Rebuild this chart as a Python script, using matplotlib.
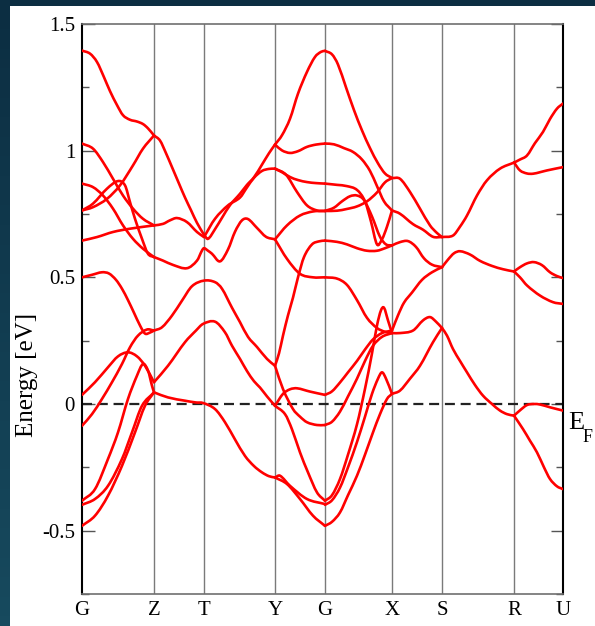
import numpy as np
import matplotlib
matplotlib.use("Agg")
import matplotlib.pyplot as plt
import matplotlib.transforms as mtransforms
from matplotlib.path import Path
from matplotlib.patches import PathPatch, Rectangle
from matplotlib.colors import LinearSegmentedColormap

# high-symmetry points along the k-path (arbitrary path units)
kpath_labels = ["G", "Z", "T", "Y", "G", "X", "S", "R", "U"]
kpath_pos = [0, 72, 122, 193, 243, 310, 360, 432, 481]

# bands, (k, E [eV]) per line, grouped by path section
bands_G_Z = [
    [(0, 1.395), (8, 1.383), (15, 1.35), (22, 1.29), (28, 1.235), (35, 1.18), (41, 1.14),
     (48, 1.122), (55, 1.115), (61, 1.105), (66, 1.088), (72, 1.06)],
    [(0, 1.028), (11, 1.008), (21, 0.955), (31, 0.889), (41, 0.823), (51, 0.771), (61, 0.731), (72, 0.705)],
    [(0, 0.870), (11, 0.856), (21, 0.823), (31, 0.771), (41, 0.705), (51, 0.652), (61, 0.613), (72, 0.58)],
    [(0, 0.764), (11, 0.777), (25, 0.81), (38, 0.863), (51, 0.942), (61, 1.008), (72, 1.06)],
    [(0, 0.764), (11, 0.791), (25, 0.85), (36, 0.88), (43, 0.863), (48, 0.797), (53, 0.731),
     (60, 0.652), (66, 0.593), (72, 0.58)],
    [(0, 0.645), (15, 0.659), (31, 0.679), (48, 0.692), (72, 0.705)],
    [(0, 0.50), (10, 0.51), (20, 0.52), (27, 0.515), (34, 0.49), (40, 0.455), (46, 0.41), (52, 0.36),
     (58, 0.31), (63, 0.278), (68, 0.282), (72, 0.29)],
    [(0, 0.036), (13, 0.086), (26, 0.145), (36, 0.188), (46, 0.204), (55, 0.188), (63, 0.151), (72, 0.086)],
    [(0, -0.086), (10, -0.04), (20, 0.02), (30, 0.086), (40, 0.158), (48, 0.224), (56, 0.27), (65, 0.294), (72, 0.29)],
    [(0, -0.382), (13, -0.336), (26, -0.217), (36, -0.112), (46, 0.02), (55, 0.112), (61, 0.158),
     (66, 0.132), (70, 0.072), (72, 0.046)],
    [(0, -0.398), (13, -0.375), (26, -0.323), (40, -0.217), (50, -0.112), (60, -0.007), (72, 0.046)],
    [(0, -0.481), (13, -0.441), (26, -0.362), (40, -0.244), (53, -0.112), (63, -0.007), (72, 0.046)],
]

bands_Z_Y = [
    [(72, 1.06), (78, 1.04), (84, 0.99), (90, 0.935), (97, 0.87), (103, 0.815), (109, 0.765),
     (115, 0.715), (122, 0.668)],
    [(72, 0.705), (81, 0.711), (88, 0.725), (95, 0.734), (105, 0.718), (115, 0.679), (122, 0.659)],
    [(72, 0.58), (81, 0.566), (91, 0.549), (105, 0.536), (115, 0.566), (120, 0.606), (122, 0.615),
     (126, 0.605), (130, 0.593), (138, 0.563), (146, 0.61), (153, 0.68), (160, 0.725), (166, 0.73),
     (175, 0.695), (184, 0.66), (193, 0.65)],
    [(122, 0.659), (133, 0.731), (146, 0.784), (158, 0.815), (165, 0.855), (172, 0.893), (180, 0.92),
     (187, 0.928), (193, 0.929)],
    [(122, 0.668), (126, 0.652), (133, 0.69), (140, 0.735), (148, 0.785), (158, 0.83), (165, 0.865),
     (172, 0.895), (180, 0.945), (187, 0.99), (193, 1.024)],
    [(72, 0.29), (80, 0.303), (90, 0.349), (100, 0.408), (110, 0.465), (122, 0.487), (133, 0.481),
     (140, 0.455), (150, 0.38), (158, 0.323), (166, 0.265), (175, 0.225), (185, 0.178), (193, 0.151)],
    [(72, 0.086), (86, 0.151), (103, 0.244), (114, 0.29), (121, 0.316), (133, 0.325), (143, 0.283),
     (150, 0.23), (158, 0.178), (165, 0.13), (172, 0.09), (178, 0.065), (185, 0.03), (193, -0.007)],
    [(72, 0.046), (86, 0.026), (103, 0.013), (114, 0.006), (121, 0.004), (133, -0.02), (143, -0.072),
     (153, -0.14), (163, -0.205), (172, -0.245), (180, -0.27), (187, -0.285), (193, -0.29)],
]

bands_Y_G = [
    [(193, 1.024), (200, 1.061), (208, 1.126), (216, 1.225), (225, 1.311), (233, 1.37), (239, 1.39), (243, 1.394)],
    [(193, 1.024), (200, 1.001), (208, 0.991), (216, 0.998), (225, 1.015), (234, 1.024), (243, 1.028)],
    [(193, 0.929), (200, 0.915), (208, 0.896), (216, 0.884), (225, 0.876), (234, 0.872), (243, 0.87)],
    [(193, 0.929), (204, 0.905), (215, 0.837), (225, 0.784), (235, 0.764), (243, 0.762)],
    [(193, 0.65), (205, 0.705), (218, 0.744), (231, 0.76), (243, 0.762)],
    [(193, 0.65), (205, 0.573), (218, 0.514), (231, 0.50), (243, 0.50)],
    [(193, 0.151), (197, 0.2), (201, 0.27), (206, 0.35), (211, 0.42), (216, 0.5), (222, 0.58),
     (230, 0.63), (237, 0.642), (243, 0.645)],
    [(193, 0.151), (201, 0.059), (211, -0.02), (218, -0.05), (225, -0.072), (235, -0.083), (243, -0.083)],
    [(193, -0.007), (201, 0.04), (208, 0.058), (215, 0.062), (228, 0.049), (243, 0.036)],
    [(193, -0.007), (203, -0.04), (210, -0.1), (218, -0.191), (226, -0.27), (235, -0.349), (243, -0.382)],
    [(193, -0.29), (198, -0.283), (208, -0.323), (225, -0.375), (243, -0.395)],
    [(193, -0.29), (205, -0.316), (218, -0.375), (231, -0.441), (243, -0.481)],
]

bands_G_X = [
    [(243, 1.394), (250, 1.38), (256, 1.34), (264, 1.25), (272, 1.16), (280, 1.08), (288, 1.01),
     (296, 0.95), (303, 0.91), (310, 0.892)],
    [(243, 1.028), (252, 1.025), (262, 1.01), (271, 0.995), (280, 0.965), (288, 0.92), (295, 0.86),
     (302, 0.8), (310, 0.764)],
    [(243, 0.87), (255, 0.865), (265, 0.86), (275, 0.845), (283, 0.8), (289, 0.72), (295, 0.63),
     (300, 0.65), (305, 0.7), (310, 0.764)],
    [(243, 0.762), (255, 0.763), (265, 0.77), (275, 0.78), (285, 0.8), (295, 0.835), (303, 0.875), (310, 0.892)],
    [(243, 0.762), (252, 0.775), (260, 0.8), (268, 0.82), (275, 0.823), (282, 0.805), (290, 0.74),
     (298, 0.66), (304, 0.63), (310, 0.626)],
    [(243, 0.645), (255, 0.64), (265, 0.63), (275, 0.615), (285, 0.605), (295, 0.605), (303, 0.615), (310, 0.626)],
    [(243, 0.50), (255, 0.495), (265, 0.47), (275, 0.41), (285, 0.34), (295, 0.3), (303, 0.285), (310, 0.28)],
    [(243, 0.036), (250, 0.05), (258, 0.085), (266, 0.125), (275, 0.17), (283, 0.215), (291, 0.255),
     (300, 0.28), (310, 0.29)],
    [(243, -0.083), (250, -0.07), (258, -0.03), (266, 0.03), (275, 0.1), (283, 0.17), (291, 0.23),
     (300, 0.265), (310, 0.28)],
    [(243, -0.382), (250, -0.36), (258, -0.296), (266, -0.2), (275, -0.08), (283, 0.06), (290, 0.2),
     (295, 0.31), (299, 0.37), (302, 0.38), (306, 0.33), (310, 0.28)],
    [(243, -0.398), (250, -0.38), (258, -0.33), (266, -0.25), (275, -0.15), (283, -0.05), (290, 0.04),
     (296, 0.1), (300, 0.125), (304, 0.1), (310, 0.04)],
    [(243, -0.481), (250, -0.465), (258, -0.428), (266, -0.36), (275, -0.283), (283, -0.2), (291, -0.112),
     (298, -0.04), (305, 0.02), (310, 0.04)],
]

bands_X_S = [
    [(310, 0.892), (318, 0.889), (328, 0.837), (338, 0.771), (348, 0.705), (355, 0.675), (360, 0.659)],
    [(310, 0.764), (318, 0.751), (331, 0.71), (341, 0.688), (351, 0.66), (360, 0.659)],
    [(310, 0.626), (318, 0.639), (326, 0.643), (334, 0.62), (342, 0.575), (350, 0.55), (360, 0.54)],
    [(310, 0.29), (316, 0.35), (322, 0.40), (330, 0.44), (340, 0.49), (350, 0.52), (360, 0.54)],
    [(310, 0.28), (318, 0.28), (331, 0.29), (341, 0.33), (348, 0.343), (354, 0.325), (360, 0.30)],
    [(310, 0.04), (318, 0.053), (328, 0.1), (338, 0.151), (351, 0.244), (360, 0.30)],
]

bands_S_R = [
    [(360, 0.659), (371, 0.665), (378, 0.70), (385, 0.744), (395, 0.823), (405, 0.883), (418, 0.929), (432, 0.953)],
    [(360, 0.54), (366, 0.57), (372, 0.595), (378, 0.603), (388, 0.59), (398, 0.565), (410, 0.545),
     (421, 0.532), (432, 0.523)],
    [(360, 0.30), (365, 0.27), (371, 0.217), (378, 0.17), (385, 0.125), (393, 0.075), (401, 0.033),
     (410, 0.0), (418, -0.026), (425, -0.04), (432, -0.046)],
]

bands_R_U = [
    [(432, 0.953), (438, 0.965), (445, 0.981), (453, 1.03), (461, 1.074), (468, 1.125), (475, 1.166), (481, 1.186)],
    [(432, 0.953), (438, 0.922), (445, 0.91), (451, 0.909), (458, 0.915), (465, 0.922), (481, 0.935)],
    [(432, 0.523), (438, 0.54), (445, 0.555), (452, 0.56), (460, 0.548), (468, 0.52), (475, 0.505), (481, 0.497)],
    [(432, 0.523), (438, 0.5), (445, 0.468), (458, 0.428), (471, 0.402), (481, 0.395)],
    [(432, -0.046), (438, -0.025), (445, -0.004), (452, 0.0), (458, -0.002), (468, -0.013), (481, -0.026)],
    [(432, -0.046), (441, -0.099), (448, -0.145), (455, -0.191), (462, -0.25), (468, -0.296),
     (475, -0.325), (481, -0.336)],
]

serif = ["Liberation Serif", "DejaVu Serif"]


def band_path(points):
    # smooth curve through the read points (cubic Hermite drawn as Bezier segments)
    k = np.array([p[0] for p in points], float)
    e = np.array([p[1] for p in points], float)
    s = np.empty(len(k))
    s[0] = (e[1] - e[0]) / (k[1] - k[0])
    s[-1] = (e[-1] - e[-2]) / (k[-1] - k[-2])
    s[1:-1] = (e[2:] - e[:-2]) / (k[2:] - k[:-2])
    verts = [(k[0], e[0])]
    codes = [Path.MOVETO]
    for i in range(len(k) - 1):
        h = k[i + 1] - k[i]
        verts += [(k[i] + h / 3, e[i] + s[i] * h / 3),
                  (k[i + 1] - h / 3, e[i + 1] - s[i + 1] * h / 3),
                  (k[i + 1], e[i + 1])]
        codes += [Path.CURVE4] * 3
    return Path(verts, codes)


fig = plt.figure(figsize=(5.95, 6.26), dpi=100)

# dark slide background with a white panel for the plot
bg = fig.add_axes([0, 0, 1, 1], zorder=-5)
slide = LinearSegmentedColormap.from_list("slide", ["#0c2e42", "#174a5e"])
bg.imshow(np.linspace(0, 1, 64).reshape(-1, 1), cmap=slide, aspect="auto",
          extent=(0, 1, 0, 1), origin="upper")
bg.add_patch(Rectangle((10 / 595, 0), 1, 1 - 6 / 626, facecolor="white", edgecolor="none"))
bg.set_xlim(0, 1)
bg.set_ylim(0, 1)
bg.axis("off")

ax = fig.add_axes([82 / 595, 32 / 626, 481 / 595, 570 / 626])

for kx in kpath_pos[1:-1]:
    ax.axvline(kx, color="#7a7a7a", lw=1.0, zorder=1)
ax.axhline(0, color="#222222", lw=1.6, dashes=(4.5, 2.6), zorder=2)

for group in [bands_G_Z, bands_Z_Y, bands_Y_G, bands_G_X, bands_X_S, bands_S_R, bands_R_U]:
    for band in group:
        ax.add_patch(PathPatch(band_path(band), fill=False, edgecolor="#ff0000",
                               lw=1.9, capstyle="round", joinstyle="round", zorder=3))

ax.set_xlim(kpath_pos[0], kpath_pos[-1])
ax.set_ylim(-0.75, 1.5)
ax.set_xticks(kpath_pos)
ax.set_xticklabels(kpath_labels, fontfamily=serif, fontsize=15)
ax.tick_params(axis="x", length=0, pad=5)

ax.set_yticks([-0.5, 0, 0.5, 1, 1.5])
ax.set_yticklabels(["-0.5", "0", "0.5", "1", "1.5"], fontfamily=serif, fontsize=15)
ax.set_yticks([-0.75, -0.25, 0.25, 0.75, 1.25], minor=True)
ax.tick_params(axis="y", which="major", direction="in", length=9, width=1.0,
               color="#555555", left=True, right=True, pad=5)
ax.tick_params(axis="y", which="minor", direction="in", length=5, width=1.0,
               color="#555555", left=True, right=True)

fig.text(27 / 595, 1 - 375 / 626, "Energy [eV]", rotation=90, fontfamily=serif,
         fontsize=18, ha="center", va="center")

# Fermi level label: E with a subscript F, just right of the frame
ef_trans = mtransforms.blended_transform_factory(ax.transAxes, ax.transData)
ax.text(1.01, -0.1, "E", transform=ef_trans, fontfamily=serif,
        fontsize=19, ha="left", va="baseline", clip_on=False)
ax.text(1.04, -0.15, "F", transform=ef_trans, fontfamily=serif,
        fontsize=13, ha="left", va="baseline", clip_on=False)

for side in ["left", "right"]:
    ax.spines[side].set_color("black")
    ax.spines[side].set_linewidth(1.5)
for side in ["top", "bottom"]:
    ax.spines[side].set_color("#707070")
    ax.spines[side].set_linewidth(1.2)

fig.savefig("out.png", dpi=100)
